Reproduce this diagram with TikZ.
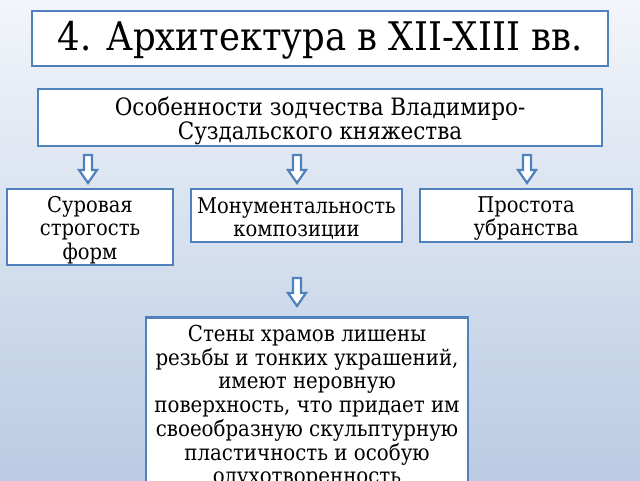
\documentclass[tikz,border=0pt]{standalone}
\usepackage{fontspec}
\setmainfont{DejaVu Serif Condensed}
\definecolor{bordc}{RGB}{79,129,189}
\definecolor{bgtop}{RGB}{242,245,250}
\definecolor{bgbot}{RGB}{186,203,227}
\tikzset{
  box/.style={draw=bordc, line width=2.5pt, fill=white, inner sep=0pt},
  txt/.style={align=center, inner sep=0pt},
  arrowline/.style={draw=bordc, line width=2.2pt, fill=white, line join=miter},
  downarrow/.pic={\path[arrowline] (-4,-14) -- (4,-14) -- (4,1) -- (9,1) -- (0,14) -- (-9,1) -- (-4,1) -- cycle;}
}
\begin{document}
\begin{tikzpicture}[x=1pt,y=-1pt]
\useasboundingbox (0,0) rectangle (640,480);
\clip (0,0) rectangle (640,480);
\shade[top color=bgtop, bottom color=bgbot] (0,0) rectangle (640,480);

\node[box, minimum width=576pt, minimum height=55pt] (title) at (320,38.5) {};
\node[txt, font=\fontsize{39.4}{44}\selectfont] (titlet) at ([yshift=-2pt]title.center) {4. Архитектура в XII-XIII вв.};

\node[box, minimum width=564pt, minimum height=57pt] (feat) at (320,117.5) {};
\node[txt, font=\fontsize{23.9}{23.8}\selectfont] (featt) at ([yshift=-3pt]feat.center) {Особенности зодчества Владимиро-\\Суздальского княжества};

\node[box, minimum width=166pt, minimum height=76pt] (sur) at (90,227) {};
\node[txt, font=\fontsize{21.7}{23.6}\selectfont] (surt) at ([yshift=-3pt]sur.center) {Суровая\\строгость\\форм};
\node[box, minimum width=211pt, minimum height=53pt] (mon) at (296.5,215.5) {};
\node[txt, font=\fontsize{21.7}{23.6}\selectfont] (mont) at ([yshift=-3pt]mon.center) {Монументальность\\композиции};
\node[box, minimum width=212pt, minimum height=53pt] (pro) at (526,215.5) {};
\node[txt, font=\fontsize{21.7}{23.6}\selectfont] (prot) at ([yshift=-3pt]pro.center) {Простота\\убранства};

\node[box, anchor=north, minimum width=322pt, minimum height=190pt] (walls) at (307,316) {};
\node[txt, anchor=north, font=\fontsize{22}{23.7}\selectfont] (wallst) at ([yshift=-9pt]walls.north) {Стены храмов лишены\\резьбы и тонких украшений,\\имеют неровную\\поверхность, что придает им\\своеобразную скульптурную\\пластичность и особую\\одухотворенность};

\pic at (88,169) {downarrow};
\pic at (297,169) {downarrow};
\pic at (527,169) {downarrow};
\pic at (297,292) {downarrow};
\end{tikzpicture}
\end{document}
